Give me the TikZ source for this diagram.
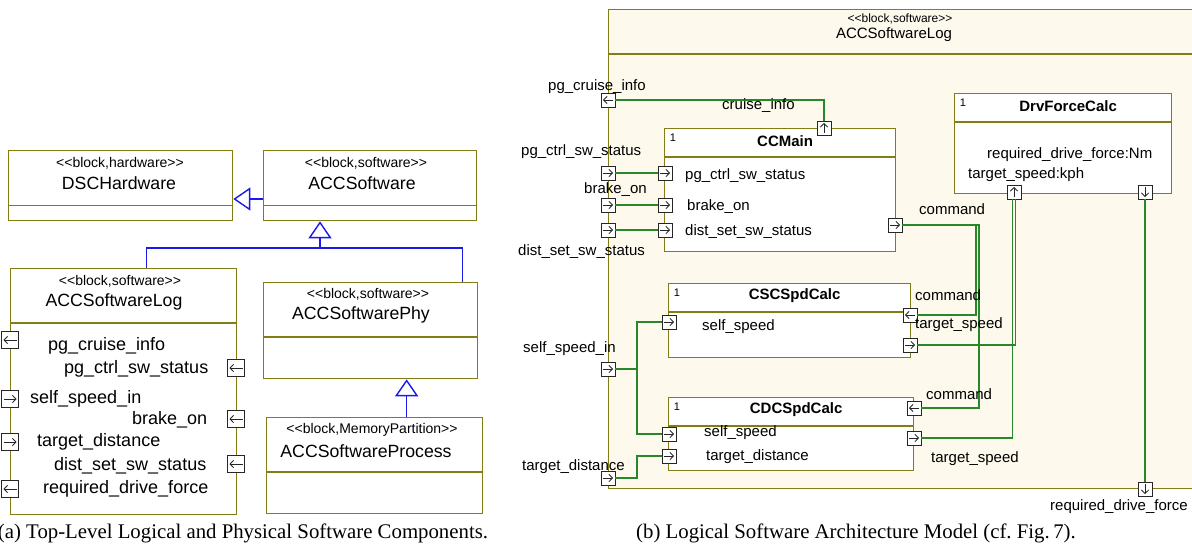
\documentclass[tikz,border=0pt]{standalone}
\usepackage{fontspec}
\setmainfont{Liberation Serif}
\setsansfont{Liberation Sans}[Ligatures=TeXOff]
\usetikzlibrary{arrows.meta,positioning,calc}

\definecolor{boxline}{RGB}{130,126,20}
\definecolor{genblue}{RGB}{25,25,235}
\definecolor{wiregreen}{RGB}{40,135,40}
\definecolor{framefill}{RGB}{253,249,237}

\tikzset{
  blk/.style={rectangle, draw=boxline, line width=1.3pt, fill=white,
              anchor=north west, inner sep=0pt},
  sep/.style={draw=boxline, line width=1.3pt},
  gen/.style={draw=genblue, line width=1.4pt},
  genarr/.style={gen, -{Triangle[open, length=17pt, width=23pt, line width=1.4pt]}},
  wire/.style={draw=wiregreen, line width=1.3pt},
  port/.style={rectangle, draw=black!85, fill=white, line width=0.8pt,
               minimum size=14pt, inner sep=0pt},
  bigport/.style={port, minimum size=17pt},
  glyph/.style={line width=0.8pt, -{Straight Barb[length=3.6pt, width=7.5pt]}},
  ptR/.style={path picture={\draw[glyph]
      ([xshift=2pt]path picture bounding box.west) -- ([xshift=-2pt]path picture bounding box.east);}},
  ptL/.style={path picture={\draw[glyph]
      ([xshift=-2pt]path picture bounding box.east) -- ([xshift=2pt]path picture bounding box.west);}},
  ptU/.style={path picture={\draw[glyph]
      ([yshift=2pt]path picture bounding box.south) -- ([yshift=-2pt]path picture bounding box.north);}},
  ptD/.style={path picture={\draw[glyph]
      ([yshift=-2pt]path picture bounding box.north) -- ([yshift=2pt]path picture bounding box.south);}},
  stereoA/.style={font=\sffamily\fontsize{14}{16}\selectfont, inner sep=0pt},
  nameA/.style={font=\sffamily\fontsize{17.7}{20}\selectfont, inner sep=0pt},
  plblA/.style={font=\sffamily\fontsize{18}{20}\selectfont, inner sep=0pt,
                anchor=west, text height=12.6pt, text depth=3.6pt},
  stereoB/.style={font=\sffamily\fontsize{12}{14}\selectfont, inner sep=0pt},
  nameB/.style={font=\sffamily\fontsize{15}{17}\selectfont, inner sep=0pt},
  titleB/.style={font=\sffamily\bfseries\fontsize{15}{17}\selectfont, inner sep=0pt},
  mult/.style={font=\sffamily\fontsize{11}{12}\selectfont, inner sep=0pt},
  plblB/.style={font=\sffamily\fontsize{15}{17}\selectfont, inner sep=0pt,
                anchor=west, text height=10.5pt, text depth=3pt},
  caption/.style={font=\rmfamily\fontsize{20.8}{24}\selectfont, inner sep=0pt}
}

\begin{document}
\begin{tikzpicture}[x=1pt, y=-1pt]
  \useasboundingbox (0,0) rectangle (1192,547);

  % (a) top-level blocks
  \node[blk, minimum width=224pt, minimum height=70pt] (dsc) at (8,150) {};
  \node[blk, minimum width=213pt, minimum height=70pt] (acc) at (263,150) {};
  \node[blk, minimum width=226pt, minimum height=246pt] (log) at (10,268) {};
  \node[blk, minimum width=214pt, minimum height=96pt] (phy) at (263,282) {};
  \node[blk, minimum width=216pt, minimum height=96pt] (proc) at (266,417) {};

  \foreach \b in {dsc, acc}{
    \draw[sep] ([yshift=16pt]\b.south west) -- ([yshift=16pt]\b.south east);
  }
  \foreach \b in {log, phy, proc}{
    \draw[sep] ([yshift=-55pt]\b.north west) -- ([yshift=-55pt]\b.north east);
  }

  \node[stereoA] (dscst) at (120,163) {<<block,hardware>>};
  \node[nameA]   (dscnm) at (119,183) {DSCHardware};
  \node[stereoA] (accst) at (366,163) {<<block,software>>};
  \node[nameA]   (accnm) at (362,183) {ACCSoftware};
  \node[stereoA] (logst) at (120,281) {<<block,software>>};
  \node[nameA]   (lognm) at (114,302) {ACCSoftwareLog};
  \node[stereoA] (physt) at (368,294) {<<block,software>>};
  \node[nameA]   (phynm) at (361,315) {ACCSoftwarePhy};
  \node[stereoA] (procst) at (372,430) {<<block,MemoryPartition>>};
  \node[nameA]   (procnm) at (366,451) {ACCSoftwareProcess};

  % generalizations
  \coordinate (genj) at (320,248);
  \draw[genarr] ([yshift=-49pt]acc.north west) -- ([yshift=-49pt]dsc.north east);
  \draw[gen] ([xshift=23pt]log.north) |- (genj) -| ([xshift=92pt]phy.north);
  \draw[genarr] (genj) -- (genj |- acc.south);
  \draw[genarr] ([xshift=32pt]proc.north) -- ([xshift=32pt]proc.north |- phy.south);

  % ports of ACCSoftwareLog
  \foreach \n/\x/\y/\d in {la/10/340/ptL, lb/10/399/ptR, lc/10/442/ptR, ld/10/489/ptL,
                           ra/236/368/ptL, rb/236/419/ptL, rc/236/464/ptL}{
    \node[bigport, \d] (\n) at (\x,\y) {};
  }
  \node[plblA] (lal) at (48,346) {pg\_cruise\_info};
  \node[plblA] (ral) at (64,369) {pg\_ctrl\_sw\_status};
  \node[plblA] (lbl) at (30,399) {self\_speed\_in};
  \node[plblA] (rbl) at (132,420) {brake\_on};
  \node[plblA] (lcl) at (37,442) {target\_distance};
  \node[plblA] (rcl) at (54,466) {dist\_set\_sw\_status};
  \node[plblA] (ldl) at (43,489) {required\_drive\_force};

  % (b) internal structure
  \node[blk, fill=framefill, minimum width=600pt, minimum height=479pt] (frame) at (608,9) {};
  \draw[sep] ([yshift=-45pt]frame.north west) -- ([yshift=-45pt]frame.north east);
  \node[stereoB] (frst) at (900,19) {<<block,software>>};
  \node[nameB]   (frnm) at (894,35) {ACCSoftwareLog};

  \node[blk, minimum width=231pt, minimum height=123pt] (ccm) at (664,128) {};
  \node[blk, minimum width=217pt, minimum height=100pt] (drv) at (954,93) {};
  \node[blk, minimum width=242pt, minimum height=74pt] (csc) at (668,283) {};
  \node[blk, minimum width=245pt, minimum height=73pt] (cdc) at (668,397) {};
  \foreach \b/\t in {ccm/CCMain, drv/DrvForceCalc, csc/CSCSpdCalc, cdc/CDCSpdCalc}{
    \draw[sep] ([yshift=-29pt]\b.north west) -- ([yshift=-29pt]\b.north east);
    \node[mult] at ([xshift=9pt, yshift=-10pt]\b.north west) {1};
    \node[titleB] at ([xshift=5pt, yshift=-13pt]\b.north) {\t};
  }

  % outer ports
  \foreach \n/\x/\y/\d in {pgci/608/100/ptL, pgctrl/608/173/ptR, brake/608/205/ptR,
                           dist/608/230/ptR, selfin/608/369/ptR, tdist/608/478/ptR,
                           rdf/1145/489/ptD}{
    \node[port, \d] (\n) at (\x,\y) {};
  }
  % part ports
  \foreach \n/\x/\y/\d in {ccCruise/824/128/ptU, ccCtrl/665/173/ptR, ccBrake/665/205/ptR,
                           ccDist/665/230/ptR, ccCmd/895/225/ptR,
                           drvTs/1014/192/ptU, drvRdf/1145/192/ptD,
                           cscSelf/669/322/ptR, cscCmd/910/315/ptL, cscTs/910/345/ptR,
                           cdcSelf/669/434/ptR, cdcTd/669/456/ptR, cdcCmd/914/408/ptL,
                           cdcTs/914/438/ptR}{
    \node[port, \d] (\n) at (\x,\y) {};
  }

  % wires
  \coordinate (cmdA) at (976,0);
  \coordinate (cmdB) at (979,0);
  \coordinate (ssj) at (637,369);
  \draw[wire] (pgci.east) -| (ccCruise.north);
  \draw[wire] (pgctrl.east) -- (ccCtrl.west);
  \draw[wire] (brake.east) -- (ccBrake.west);
  \draw[wire] (dist.east) -- (ccDist.west);
  \draw[wire] (ccCmd.east) -| (cmdA |- cscCmd.east) -- (cscCmd.east);
  \draw[wire] (ccCmd.east) -| (cmdB |- cdcCmd.east) -- (cdcCmd.east);
  \draw[wire] (cscTs.east) -| ([xshift=1.5pt]drvTs.south);
  \draw[wire] (cdcTs.east) -| ([xshift=-1.5pt]drvTs.south);
  \draw[wire] (drvRdf.south) -- (rdf.north);
  \draw[wire] (selfin.east) -- (ssj);
  \draw[wire] (cscSelf.west) -| (ssj) |- (cdcSelf.west);
  \draw[wire] (tdist.east) -| (ssj |- cdcTd.west) -- (cdcTd.west);

  % labels
  \node[plblB] (pgcil) at (548,87) {pg\_cruise\_info};
  \node[plblB] (cruil) at (722,106) {cruise\_info};
  \node[plblB] (pgctrll) at (521,152) {pg\_ctrl\_sw\_status};
  \node[plblB] (brakel) at (584,190) {brake\_on};
  \node[plblB] (distl) at (518,252) {dist\_set\_sw\_status};
  \node[plblB] (ccCtrll) at (685,176) {pg\_ctrl\_sw\_status};
  \node[plblB] (ccBrakel) at (687,207) {brake\_on};
  \node[plblB] (ccDistl) at (685,232) {dist\_set\_sw\_status};
  \node[plblB] (ccCmdl) at (919,211) {command};
  \node[plblB] (drvRdfl) at (987,155) {required\_drive\_force:Nm};
  \node[plblB] (drvTsl) at (968,175) {target\_speed:kph};
  \node[plblB] (cscSelfl) at (702,327) {self\_speed};
  \node[plblB] (cscCmdl) at (915,297) {command};
  \node[plblB] (cscTsl) at (915,325) {target\_speed};
  \node[plblB] (cdcSelfl) at (704,433) {self\_speed};
  \node[plblB] (cdcTdl) at (706,457) {target\_distance};
  \node[plblB] (cdcCmdl) at (926,396) {command};
  \node[plblB] (cdcTsl) at (931,459) {target\_speed};
  \node[plblB] (selfinl) at (523,349) {self\_speed\_in};
  \node[plblB] (tdistl) at (522,467) {target\_distance};
  \node[plblB] (rdfl) at (1050,507) {required\_drive\_force};

  % captions
  \node[caption] (capa) at (243,533) {(a) Top-Level Logical and Physical Software Components.};
  \node[caption] (capb) at (856,533) {(b) Logical Software Architecture Model (cf.\ Fig.\,7).};
\end{tikzpicture}
\end{document}
